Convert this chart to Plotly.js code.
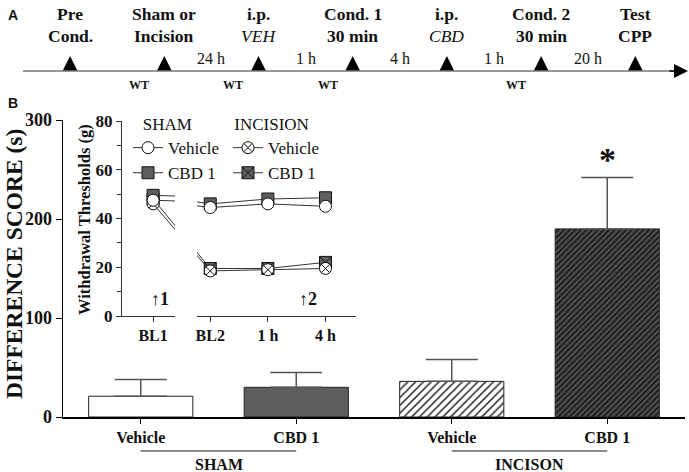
<!DOCTYPE html>
<html><head><meta charset="utf-8">
<script src="https://cdn.plot.ly/plotly-3.0.1.min.js"></script>
<style>html,body{margin:0;padding:0;background:#fff}#chart{width:689px;height:472px}</style>
</head><body><div id="chart"></div>
<script>
// ---- Panel B: main bar data ----
const treatments = ['Vehicle', 'CBD 1', 'Vehicle', 'CBD 1'];
const groupNames = ['SHAM', 'INCISON'];
const diffScore = [21, 30, 36, 190];
const diffSem = [17, 15, 22, 52];

// ---- Panel B inset: withdrawal thresholds (g) ----
const insetTimes = ['BL1', 'BL2', '1 h', '4 h'];
const shamVehicle = [47.5, 44.5, 46, 45];
const shamCBD = [49.5, 46, 48, 48.5];
const incVehicle = [46, 18.5, 19, 19.5];
const incCBD = [48, 19.5, 19.5, 22];

// ---- Panel A: timeline ----
const eventTop = ['Pre', 'Sham or', 'i.p.', 'Cond. 1', 'i.p.', 'Cond. 2', 'Test'];
const eventBottom = ['Cond.', 'Incision', 'VEH', '30 min', 'CBD', '30 min', 'CPP'];
const intervalLabels = ['24 h', '1 h', '4 h', '1 h', '20 h'];
const wtEvents = [1, 2, 3, 5];

const W = 689, H = 472;
const px = v => v / W, py = v => 1 - v / H;
const serif = 'Liberation Serif, serif';
const idx = treatments.map((_, i) => i);
const tIdx = insetTimes.map((_, i) => i);
const evIdx = eventTop.map((_, i) => i);

// bar styles (one trace per bar)
const barStyles = [
  {color: '#ffffff', shape: ''},
  {color: '#5e5e5e', shape: ''},
  {color: '#ffffff', shape: '/', fg: '#222', size: 5.5, sol: 0.28},
  {color: '#4f4f4f', shape: '/', fg: '#151515', size: 4, sol: 0.4}
];
const traces = [];
idx.forEach(i => {
  const st = barStyles[i];
  const marker = {color: st.color, line: {color: '#222', width: 1}};
  if (st.shape) marker.pattern = {shape: st.shape, fgcolor: st.fg, bgcolor: st.color, size: st.size,
                                  solidity: st.sol, fillmode: 'replace'};
  traces.push({
    type: 'bar', x: [idx[i]], y: [diffScore[i]], width: 0.67, xaxis: 'x', yaxis: 'y', showlegend: false,
    marker: marker,
    error_y: {type: 'data', symmetric: false, array: [diffSem[i]], arrayminus: [0],
              color: '#555', thickness: 1.5, width: 26},
    hoverinfo: 'skip'
  });
});

const series = [
  {name: 'CBD 1', y: incCBD, symbol: 'square-x', color: '#5e5e5e', legend: 'legend2', rank: 2},
  {name: 'Vehicle', y: incVehicle, symbol: 'circle-x', color: '#ffffff', legend: 'legend2', rank: 1},
  {name: 'CBD 1', y: shamCBD, symbol: 'square', color: '#5e5e5e', legend: 'legend', rank: 2},
  {name: 'Vehicle', y: shamVehicle, symbol: 'circle', color: '#ffffff', legend: 'legend', rank: 1}
];
['x2', 'x3'].forEach((xa, k) => {
  series.forEach(s => {
    traces.push({
      type: 'scatter', mode: 'lines+markers', x: tIdx, y: s.y, name: s.name,
      xaxis: xa, yaxis: 'y2', legend: s.legend, legendrank: s.rank, showlegend: k === 0,
      line: {color: '#333', width: 1},
      marker: {symbol: s.symbol, size: 12, color: s.color, line: {color: '#111', width: 1}},
      hoverinfo: 'skip'
    });
  });
});

traces.push({
  type: 'scatter', mode: 'markers', x: evIdx, y: evIdx.map(() => 0), xaxis: 'x4', yaxis: 'y4',
  showlegend: false, marker: {symbol: 'arrow-up', size: 15, color: '#000'}, hoverinfo: 'skip'
});

const ann = [];
const txt = (o) => ann.push(Object.assign({showarrow: false, xanchor: 'center', yanchor: 'middle'}, o));
const f = (s, fam) => ({family: fam || serif, size: s, color: '#111'});
txt({text: '<b>A</b>', xref: 'paper', yref: 'paper', x: px(13), y: py(15), font: f(14, 'Liberation Sans')});
txt({text: '<b>B</b>', xref: 'paper', yref: 'paper', x: px(13), y: py(103), font: f(14, 'Liberation Sans')});
evIdx.forEach(i => {
  txt({text: '<b>' + eventTop[i] + '</b>', xref: 'x4', x: i, yref: 'paper', y: py(14), font: f(17.5)});
  const italic = eventTop[i] === 'i.p.';
  txt({text: italic ? '<i>' + eventBottom[i] + '</i>' : '<b>' + eventBottom[i] + '</b>',
       xref: 'x4', x: i, yref: 'paper', y: py(36), font: f(17.5)});
});
intervalLabels.forEach((t, i) => {
  txt({text: t, xref: 'x4', x: i + 1.5, yref: 'paper', y: py(58), font: f(16)});
});
wtEvents.forEach(e => {
  txt({text: '<b>WT</b>', xref: 'x4', x: e, xshift: -25, yref: 'paper', y: py(85), font: f(12)});
});
ann.push({text: '', xref: 'paper', yref: 'paper', x: px(688), y: py(71), axref: 'paper', ayref: 'paper',
          ax: px(668), ay: py(71), showarrow: true, arrowhead: 2, arrowsize: 2, arrowwidth: 1.4, arrowcolor: '#000'});
txt({text: '<b>DIFFERENCE SCORE (s)</b>', xref: 'paper', yref: 'paper', x: px(14), y: py(264), textangle: -90,
     font: f(23.5)});
txt({text: '<b>Withdrawal Thresholds (g)</b>', xref: 'paper', yref: 'paper', x: px(84), y: py(220), textangle: -90,
     font: f(16.5)});
txt({text: '↑<b>1</b>', xref: 'x2', x: 0.12, yref: 'y2', y: 7, font: f(18)});
txt({text: '↑<b>2</b>', xref: 'x3', x: 2.7, yref: 'y2', y: 7, font: f(18)});
txt({text: '<b>*</b>', xref: 'x', x: 3, yref: 'y', y: diffScore[3] + diffSem[3], yanchor: 'bottom', yshift: -3,
     font: f(34)});
groupNames.forEach((g, k) => {
  txt({text: '<b>' + g + '</b>', xref: 'x', x: 2 * k + 0.5, yref: 'paper', y: py(464), font: f(16)});
});

const shapes = [
  {type: 'line', xref: 'paper', yref: 'paper', x0: px(23), x1: px(676), y0: py(71), y1: py(71),
   line: {color: '#777', width: 1.5}}
];
groupNames.forEach((g, k) => {
  shapes.push({type: 'line', xref: 'x', yref: 'paper', x0: 2 * k, x1: 2 * k + 1, y0: py(451), y1: py(451),
               line: {color: '#666', width: 1.5}});
});

const tickFontB = s => ({family: serif, size: s, color: '#111', weight: 'bold'});
const insetX = (dom, rng) => ({
  domain: dom, range: rng, anchor: 'y2', tickvals: tIdx, ticktext: insetTimes, ticks: 'outside', ticklen: 5,
  tickcolor: '#333', showline: true, linecolor: '#333', linewidth: 1.2, showgrid: false, zeroline: false,
  tickfont: tickFontB(16), fixedrange: true
});
const legendBase = (x, title) => ({
  x: x, y: py(108), xanchor: 'left', yanchor: 'top', bgcolor: 'rgba(0,0,0,0)', tracegroupgap: 0,
  font: f(17), itemclick: false,
  title: {text: title, font: f(17)}
});

const layout = {
  width: W, height: H, margin: {l: 0, r: 0, t: 0, b: 0}, paper_bgcolor: '#fff', plot_bgcolor: '#fff',
  showlegend: true, barmode: 'overlay',
  xaxis: {domain: [px(63), px(685)], range: [-0.5, 3.5], anchor: 'y', tickvals: idx, ticktext: treatments,
          ticks: 'outside', ticklen: 5, tickcolor: '#000', showline: true, linecolor: '#000', linewidth: 1.5,
          showgrid: false, zeroline: false, tickfont: tickFontB(16), fixedrange: true},
  yaxis: {domain: [py(417), py(120)], range: [0, 300], anchor: 'x', dtick: 100, ticks: 'outside', ticklen: 6,
          tickcolor: '#000', showline: true, linecolor: '#000', linewidth: 1.5, showgrid: false, zeroline: false,
          tickfont: tickFontB(18), fixedrange: true},
  xaxis2: insetX([px(122), px(175)], [-0.54, 0.38]),
  xaxis3: insetX([px(197), px(356)], [0.77, 3.53]),
  yaxis2: {domain: [py(316), py(121)], range: [0, 80], anchor: 'x2', dtick: 20, ticks: 'outside', ticklen: 5,
           tickcolor: '#333', showline: true, linecolor: '#333', linewidth: 1.2, showgrid: false, zeroline: false,
           minor: {dtick: 10, ticks: 'outside', ticklen: 4, tickcolor: '#333'},
           tickfont: tickFontB(17), fixedrange: true},
  xaxis4: {domain: [0, 1], range: [-0.744, 6.570], anchor: 'y4', visible: false, fixedrange: true},
  yaxis4: {domain: [py(100), 1], range: [-0.44, 0.56], anchor: 'x4', visible: false, fixedrange: true},
  legend: legendBase(px(128), '\u00a0\u00a0\u00a0SHAM'),
  legend2: legendBase(px(228), '\u00a0INCISION'),
  annotations: ann,
  shapes: shapes
};

Plotly.newPlot('chart', traces, layout, {displayModeBar: false, staticPlot: true});
</script></body></html>
